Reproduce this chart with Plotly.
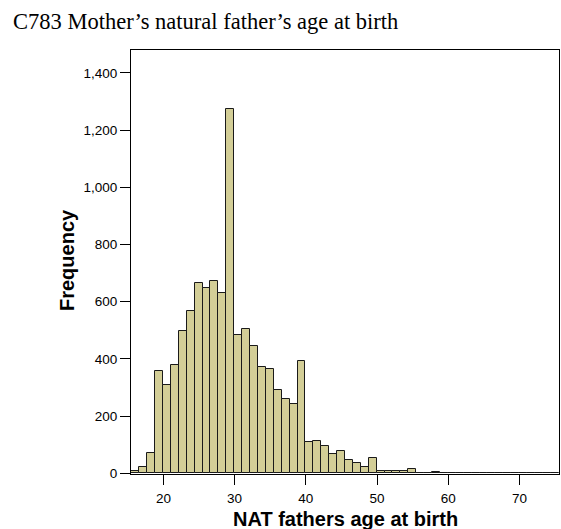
import plotly.graph_objects as go

# Histogram data: bins of equal width starting at bin_start
bin_start = 15.5
bin_width = 10 / 9
counts = [8, 23, 72, 359, 309, 378, 496, 567, 665, 649, 674, 630, 1275, 484,
          504, 445, 373, 364, 290, 261, 241, 393, 110, 114, 95, 66, 78, 47,
          37, 22, 52, 9, 9, 9, 9, 14, 0, 0, 5, 1, 1, 0, 1, 0, 1, 0, 0, 1,
          0, 0, 1, 0, 0, 1]

x_ticks = [20, 30, 40, 50, 60, 70]
y_ticks = [0, 200, 400, 600, 800, 1000, 1200, 1400]
y_tick_text = ["0", "200", "400", "600", "800", "1,000", "1,200", "1,400"]

title_text = "C783 Mother\u2019s natural father\u2019s age at birth"
x_title = "NAT fathers age at birth"
y_title = "Frequency"

centers = [bin_start + (i + 0.5) * bin_width for i in range(len(counts))]

fig = go.Figure()
fig.add_trace(go.Bar(
    x=centers, y=counts, width=bin_width,
    marker=dict(color="#D3CE97", line=dict(color="#1a1a1a", width=1)),
    hoverinfo="x+y",
))

W, H = 561, 529
L, R, T, B = 131, 2, 50, 55

fig.update_layout(
    width=W, height=H,
    margin=dict(l=L, r=R, t=T, b=B),
    paper_bgcolor="white", plot_bgcolor="white",
    showlegend=False, bargap=0,
    font=dict(family="Liberation Sans, Arial, sans-serif", color="black"),
    title=dict(text=title_text, xref="container", yref="container",
               x=13 / W, xanchor="left", y=1 - 21 / H, yanchor="middle",
               font=dict(family="Liberation Serif, Times New Roman, serif",
                         size=22.5, color="black")),
    xaxis=dict(range=[15.45, 75.55], tickvals=x_ticks, ticks="outside",
               ticklen=10, tickwidth=1, tickcolor="black",
               ticklabelstandoff=2,
               showline=True, linecolor="black", linewidth=1, mirror=True,
               showgrid=False, zeroline=False,
               tickfont=dict(size=13.5, color="black")),
    yaxis=dict(range=[-2.5, 1480], tickvals=y_ticks, ticktext=y_tick_text,
               ticks="outside", ticklen=10, tickwidth=1, tickcolor="black",
               showline=True, linecolor="black", linewidth=1, mirror=True,
               showgrid=False, zeroline=False,
               tickfont=dict(size=13.5, color="black")),
    annotations=[
        dict(text="<b>" + x_title + "</b>", xref="paper", yref="paper",
             x=0.5, y=-(518.5 - 474) / 424, xanchor="center", yanchor="middle",
             showarrow=False, font=dict(size=20, color="black")),
        dict(text="<b>" + y_title + "</b>", xref="paper", yref="paper",
             x=(67 - L) / (W - L - R), y=(474 - 260) / 424,
             xanchor="center", yanchor="middle", textangle=-90,
             showarrow=False, font=dict(size=20, color="black")),
    ],
)

fig.write_html("out.html",
               config={"displayModeBar": False},
               post_script="document.body.style.margin='0';"
                           "document.body.style.overflow='hidden';")
